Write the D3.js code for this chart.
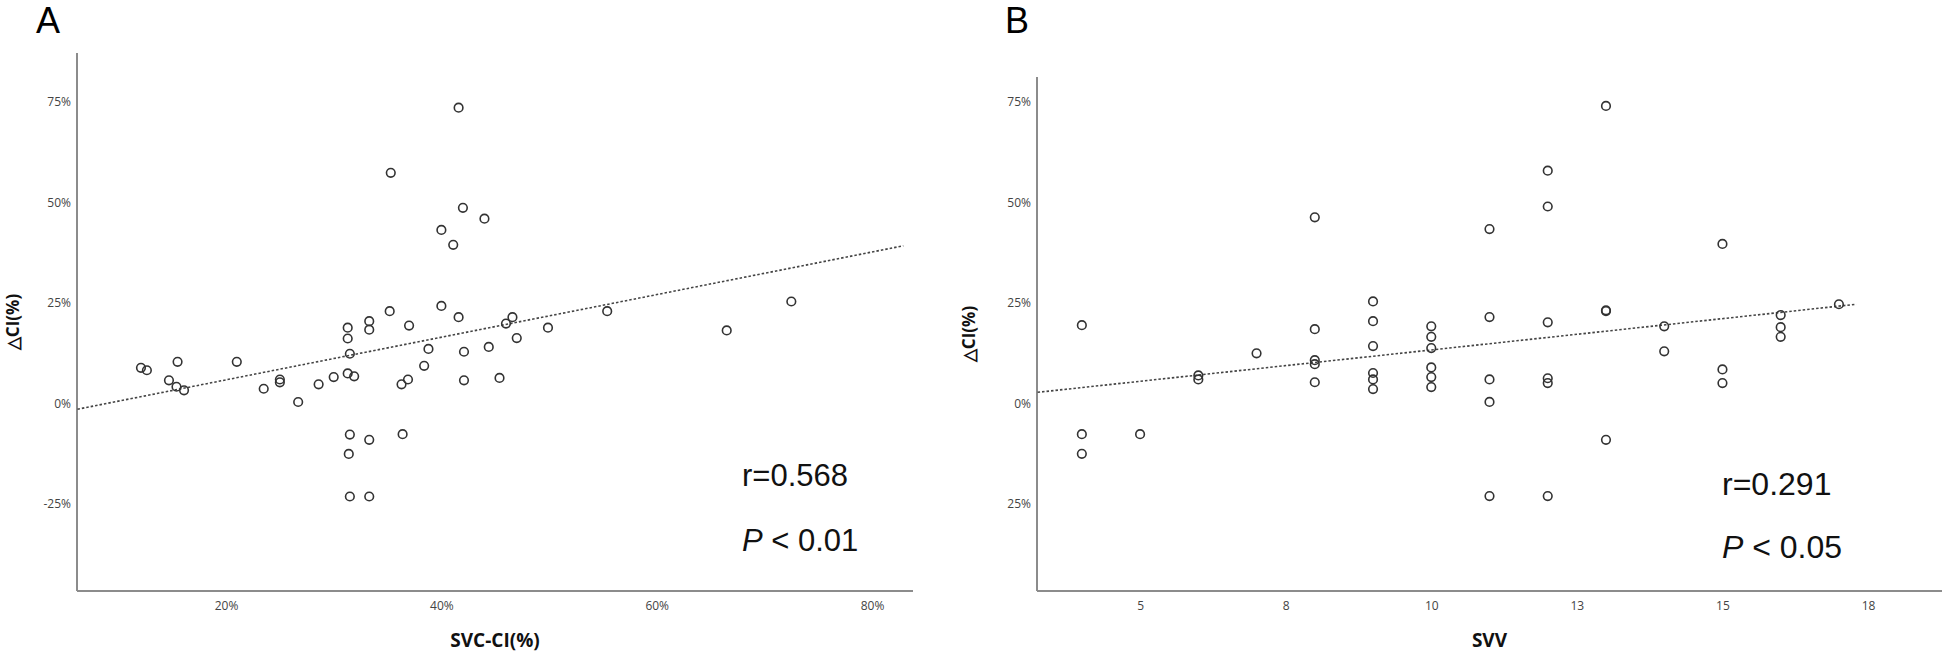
<!DOCTYPE html>
<html>
<head>
<meta charset="utf-8">
<script src="https://cdn.jsdelivr.net/npm/d3@7"></script>
<style>
  html, body { margin: 0; padding: 0; background: #fff; }
  svg { display: block; }
</style>
</head>
<body>
<svg id="chart" width="1944" height="653"></svg>
<script>
// ---------- Panel A data ----------
const svcCI = [12.1, 12.65, 15.5, 14.7, 15.4, 16.1, 21.0, 23.5, 25.0, 25.0, 26.7, 28.6, 30.0, 31.3, 31.9, 31.5, 31.3, 31.3, 33.3, 33.3,
  31.5, 33.3, 31.4, 31.5, 33.3, 36.4, 35.2, 37.0, 40.0, 41.6, 38.8, 38.4, 42.1, 44.4, 46.6, 46.0, 47.0, 49.9, 55.4, 36.3,
  36.9, 42.1, 45.4, 66.5, 72.5, 41.6, 35.3, 42.0, 44.0, 40.0, 41.1];
const deltaCI_A = [8.9, 8.3, 10.4, 5.8, 4.2, 3.3, 10.4, 3.7, 6.0, 5.3, 0.4, 4.8, 6.6, 7.5, 6.8, 12.4, 16.2, 18.9, 20.5, 18.4,
  -7.7, -9.0, -12.5, -23.1, -23.1, -7.6, 23.0, 19.4, 24.3, 21.5, 13.6, 9.4, 12.9, 14.1, 21.5, 19.9, 16.3, 18.9, 23.0, 4.8,
  6.0, 5.8, 6.4, 18.2, 25.4, 73.6, 57.4, 48.7, 46.0, 43.2, 39.5];
const fitA_x = [6.2, 82.9];
const fitA_y = [-1.4, 39.25];
const xTicksA = [20, 40, 60, 80];
const xTickLabelsA = ["20%", "40%", "60%", "80%"];
const yTicksA = [-25, 0, 25, 50, 75];
const yTickLabelsA = ["-25%", "0%", "25%", "50%", "75%"];

// ---------- Panel B data ----------
const svv = [4, 4, 4, 5, 6, 6, 7, 8, 8, 8, 8, 8, 9, 9, 9, 9, 9, 9, 10, 10, 10, 10, 10, 10,
  11, 11, 11, 11, 11, 12, 12, 12, 12, 12, 12, 13, 13, 13, 13, 14, 14, 15, 15, 15, 16, 16, 16, 17];
const deltaCI_B = [19.5, -7.6, -12.5, -7.6, 7.0, 6.0, 12.5, 46.3, 18.5, 10.8, 9.8, 5.3, 25.4, 20.5, 14.3, 7.6, 6.0, 3.6,
  19.2, 16.6, 13.8, 9.0, 6.6, 4.1, 43.4, 21.5, 6.0, 0.4, -23.0, 57.9, 49.0, 20.2, 6.3, 5.1, -23.0,
  74.0, 23.2, 23.0, -9.0, 19.2, 13.0, 39.7, 8.5, 5.1, 22.0, 19.0, 16.6, 24.7];
const fitB_x = [3.24, 17.3];
const fitB_y = [2.8, 24.7];
const xTicksB = [5, 7.5, 10, 12.5, 15, 17.5];
const xTickLabelsB = ["5", "8", "10", "13", "15", "18"];
const yTicksB = [-25, 0, 25, 50, 75];
const yTickLabelsB = ["25%", "0%", "25%", "50%", "75%"];

const svg = d3.select("#chart");
svg.append("rect").attr("width", 1944).attr("height", 653).attr("fill", "#fff");

function panel(cfg) {
  const g = svg.append("g");
  const x = d3.scaleLinear().domain(cfg.xDomain).range(cfg.xRange);
  const y = d3.scaleLinear().domain(cfg.yDomain).range(cfg.yRange);

  const xAxis = d3.axisBottom(x).tickValues(cfg.xTicks)
    .tickFormat((d, i) => cfg.xTickLabels[i]).tickSize(0).tickPadding(12);
  const gx = g.append("g").attr("transform", `translate(0,${cfg.yRange[0]})`).call(xAxis);
  gx.select(".domain").attr("stroke", "#8c8c8c").attr("stroke-width", 2)
    .attr("d", `M${cfg.xRange[0]},0H${cfg.xRange[1]}`);
  gx.selectAll("text").attr("font-family", "'Open Sans', sans-serif")
    .attr("font-size", 12).attr("fill", "#444").attr("dy", "0.35em")
    .attr("y", 15);

  const yAxis = d3.axisLeft(y).tickValues(cfg.yTicks)
    .tickFormat((d, i) => cfg.yTickLabels[i]).tickSize(0).tickPadding(6);
  const gy = g.append("g").attr("transform", `translate(${cfg.xRange[0]},0)`).call(yAxis);
  gy.select(".domain").attr("stroke", "#8c8c8c").attr("stroke-width", 2)
    .attr("d", `M0,${cfg.yRange[0]}V${cfg.yRange[1]}`);
  gy.selectAll("text").attr("font-family", "'Open Sans', sans-serif")
    .attr("font-size", 12).attr("fill", "#444");

  g.append("line")
    .attr("x1", x(cfg.fitX[0])).attr("y1", y(cfg.fitY[0]))
    .attr("x2", x(cfg.fitX[1])).attr("y2", y(cfg.fitY[1]))
    .attr("stroke", "#444").attr("stroke-width", 1.6)
    .attr("stroke-dasharray", "2.5,2");

  g.selectAll("circle.pt").data(cfg.xs.map((v, i) => [v, cfg.ys[i]]))
    .join("circle").attr("class", "pt")
    .attr("cx", d => x(d[0])).attr("cy", d => y(d[1]))
    .attr("r", 4.3).attr("fill", "none")
    .attr("stroke", "#333").attr("stroke-width", 1.6);

  g.append("text").attr("x", (cfg.xRange[0] + cfg.xRange[1]) / 2).attr("y", 647)
    .attr("text-anchor", "middle").attr("font-family", "'Open Sans', sans-serif")
    .attr("font-weight", "bold").attr("font-size", 19).attr("fill", "#111")
    .text(cfg.xTitle);
  const yc = (cfg.yRange[0] + cfg.yRange[1]) / 2;
  g.append("text").attr("transform", `translate(${cfg.yTitleX},${yc}) rotate(-90)`)
    .attr("text-anchor", "middle").attr("font-family", "'Open Sans', sans-serif")
    .attr("font-weight", "bold").attr("font-size", 17).attr("fill", "#111")
    .text("△CI(%)");

  g.append("text").attr("x", cfg.letterX).attr("y", 33)
    .attr("font-family", "'Liberation Sans', Arial, sans-serif").attr("font-size", 36)
    .attr("fill", "#000").text(cfg.letter);

  const s = g.append("g").attr("font-family", "'Liberation Sans', Arial, sans-serif")
    .attr("font-size", cfg.statSize).attr("fill", "#111");
  s.append("text").attr("x", cfg.statX).attr("y", cfg.statY[0]).text(cfg.rText);
  const p = s.append("text").attr("x", cfg.statX).attr("y", cfg.statY[1]);
  p.append("tspan").attr("font-style", "italic").text("P");
  p.append("tspan").text(" < " + cfg.pText);
}

panel({
  xs: svcCI, ys: deltaCI_A,
  xDomain: [6.16, 83.8], xRange: [77, 913],
  yDomain: [-46.6, 87.2], yRange: [591, 53],
  xTicks: xTicksA, xTickLabels: xTickLabelsA,
  yTicks: yTicksA, yTickLabels: yTickLabelsA,
  fitX: fitA_x, fitY: fitA_y,
  xTitle: "SVC-CI(%)", yTitleX: 19,
  letter: "A", letterX: 36,
  statX: 742, statY: [486, 551], statSize: 31,
  rText: "r=0.568", pText: "0.01"
});

panel({
  xs: svv, ys: deltaCI_B,
  xDomain: [3.23, 18.77], xRange: [1037, 1942],
  yDomain: [-46.6, 81.2], yRange: [591, 77],
  xTicks: xTicksB, xTickLabels: xTickLabelsB,
  yTicks: yTicksB, yTickLabels: yTickLabelsB,
  fitX: fitB_x, fitY: fitB_y,
  xTitle: "SVV", yTitleX: 975,
  letter: "B", letterX: 1005,
  statX: 1722, statY: [495, 558], statSize: 32,
  rText: "r=0.291", pText: "0.05"
});
</script>
</body>
</html>
